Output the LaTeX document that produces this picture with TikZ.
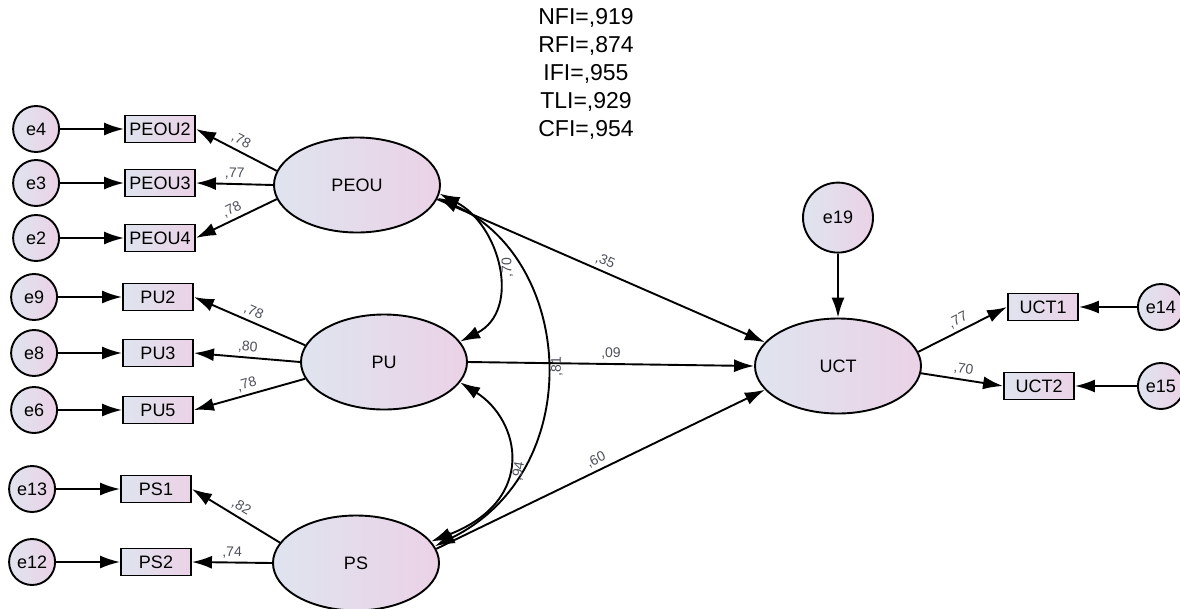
\documentclass[tikz,border=0pt]{standalone}
\usepackage{fontspec}
\setmainfont{Liberation Sans}
\usetikzlibrary{arrows.meta,positioning,shapes.geometric}

\definecolor{shadeL}{HTML}{DFE4EF}
\definecolor{shadeR}{HTML}{EBD2E6}
\definecolor{coefgray}{HTML}{4B4F58}

\begin{document}
\begin{tikzpicture}[x=1pt,y=1pt,
        latent/.style={
        ellipse,
        draw=black,
        line width=1.9pt,
        left color=shadeL,
        right color=shadeR,
        minimum width=166pt,
        minimum height=95pt,
        inner sep=0pt,
        font=\fontsize{18}{20}\selectfont},
    indbox/.style={
        rectangle,
        draw=black,
        line width=1.9pt,
        left color=shadeL,
        right color=shadeR,
        minimum width=70pt,
        minimum height=27pt,
        inner xsep=3pt,
        inner ysep=0pt,
        font=\fontsize{18}{20}\selectfont},
    errcircle/.style={
        circle,
        draw=black,
        line width=1.9pt,
        left color=shadeL,
        right color=shadeR,
        minimum size=46pt,
        inner sep=0pt,
        font=\fontsize{18}{20}\selectfont},
    myarrow/.style={-{Latex[length=20pt,width=13pt]}, line width=1.9pt},
    backarrow/.style={{Latex[length=20pt,width=13pt]}-, line width=1.9pt},
    botharrow/.style={{Latex[length=20pt,width=13pt]}-{Latex[length=20pt,width=13pt]}, line width=1.9pt},
    coef/.style={font=\fontsize{14}{16}\selectfont, text=coefgray, inner sep=3.5pt},
    fitstats/.style={align=center, font=\fontsize{23}{28}\selectfont},
    node distance=64pt
    ]
    \useasboundingbox (0,0) rectangle (1180,-608);

    \node[fitstats] (fit) at (586,-74) {NFI=,919\\RFI=,874\\IFI=,955\\TLI=,929\\CFI=,954};

    \node[latent] (PEOU) at (357,-185) {PEOU};
    \node[latent] (PU) at (384,-362) {PU};
    \node[latent] (PS) at (356,-563) {PS};
    \node[latent] (UCT) at (838,-366) {UCT};

    \foreach \ind/\x/\y in {% box/x/y
        PEOU2/160/129, PEOU3/160/183, PEOU4/160/238,
        PU2/158/297, PU3/158/353, PU5/158/410,
        PS1/156/489, PS2/156/562,
        UCT1/1043/307, UCT2/1039/386}
        \node[indbox] (\ind) at (\x,-\y) {\ind};

    \foreach \e/\ind in {e4/PEOU2, e3/PEOU3, e2/PEOU4, e9/PU2, e8/PU3, e6/PU5, e13/PS1, e12/PS2}{
        \node[errcircle, left=of \ind] (\e) {\e};
        \draw[myarrow] (\e) -- (\ind);
    }

    \node[errcircle, right=58pt of UCT1] (e14) {e14};
    \node[errcircle, right=62pt of UCT2] (e15) {e15};
    \node[errcircle, minimum size=70pt, above=of UCT] (e19) {e19};
    \draw[myarrow] (e14) -- (UCT1);
    \draw[myarrow] (e15) -- (UCT2);
    \draw[myarrow] (e19) -- (UCT);

    % loadings
    \foreach \lv/\ang/\ind/\val in {
        PEOU/170/PEOU2/{,78},
        PEOU/180/PEOU3/{,77},
        PEOU/190/PEOU4/{,78},
        PU/168/PU2/{,78},
        PU/180/PU3/{,80},
        PU/192/PU5/{,78},
        PS/165/PS1/{,82},
        PS/180/PS2/{,74}}
        \draw[backarrow] (\ind.east) -- node[coef, sloped, above] {\val} (\lv.\ang);

    \draw[myarrow] (UCT.10) -- node[coef, sloped, above] {,77} (UCT1.west);
    \draw[myarrow] (UCT.-5) -- node[coef, sloped, above] {,70} (UCT2.west);

    % paths to UCT
    \draw[myarrow] (PEOU.-10) -- node[coef, sloped, above] {,35} (UCT.162);
    \draw[myarrow] (PU.east) -- node[coef, above] {,09} (UCT.west);
    \draw[myarrow] (PS.10) -- node[coef, sloped, above] {,60} (UCT.198);

    % covariances
    \draw[botharrow] (PEOU.-6) .. controls (500,-225) and (522,-310) .. node[coef, pos=0.5, rotate=90, anchor=north, inner ysep=5pt] {,70} (PU.15);
    \draw[botharrow] (PEOU.-9) .. controls (575,-260) and (588,-470) .. node[coef, pos=0.5, rotate=90, anchor=north, inner ysep=5pt] {,81} (PS.12);
    \draw[botharrow] (PU.-15) .. controls (520,-420) and (538,-500) .. node[coef, pos=0.55, rotate=80, anchor=north, inner ysep=5pt] {,94} (PS.16);
\end{tikzpicture}
\end{document}
